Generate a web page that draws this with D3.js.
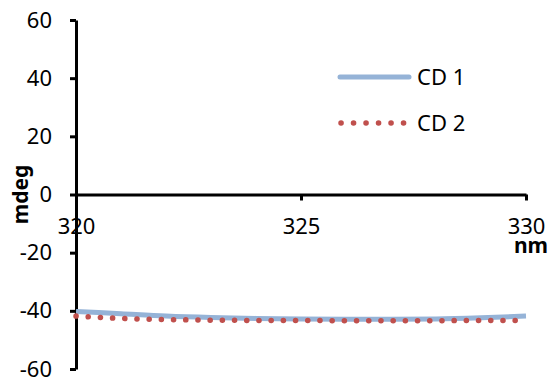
<!DOCTYPE html>
<html>
<head>
<meta charset="utf-8">
<script src="https://cdn.jsdelivr.net/npm/d3@7"></script>
<style>
  body { margin: 0; background: #fff; }
  svg { font-family: "Noto Sans", sans-serif; }
</style>
</head>
<body>
<svg></svg>
<script>
window.onload = () => {

  const width = 551;
  const height = 385;

  const wavelengths = [320, 321, 322, 323, 324, 325, 326, 327, 328, 329, 330];
  const cd1 = [-40.2, -41.0, -41.8, -42.3, -42.6, -42.8, -42.9, -42.9, -42.8, -42.4, -41.8];
  const cd2 = [-41.8, -42.6, -43.0, -43.2, -43.3, -43.3, -43.4, -43.4, -43.4, -43.3, -43.3];
  const seriesNames = ['CD 1', 'CD 2'];
  const xTicks = [320, 325, 330];
  const yTicks = [-60, -40, -20, 0, 20, 40, 60];

  const svg = d3.select('svg').attr('width', width).attr('height', height);

  const xScale = d3.scaleLinear().domain([320, 330]).range([76, 526]);
  const yScale = d3.scaleLinear().domain([-60, 60]).range([369, 20]);

  // y axis
  const yAxis = svg.append('g')
      .attr('transform', 'translate(' + xScale(320) + ',0)')
      .call(d3.axisLeft(yScale).tickValues(yTicks).tickSize(6).tickSizeOuter(0)
        .tickFormat(d => String(d)));
  yAxis.select('.domain').attr('stroke', '#000').attr('stroke-width', 3);
  yAxis.selectAll('.tick line').attr('stroke', '#000').attr('stroke-width', 3);
  yAxis.selectAll('.tick text')
      .attr('x', -24)
      .attr('font-size', 22)
      .attr('font-family', '"Noto Sans", sans-serif')
      .attr('fill', '#000');

  // x axis at y = 0
  const xAxis = svg.append('g')
      .attr('transform', 'translate(0,' + yScale(0) + ')')
      .call(d3.axisBottom(xScale).tickValues(xTicks).tickSize(6).tickSizeOuter(0)
        .tickFormat(d => String(d)));
  xAxis.select('.domain').attr('stroke', '#000').attr('stroke-width', 3);
  xAxis.selectAll('.tick line').attr('stroke', '#000').attr('stroke-width', 3);
  xAxis.selectAll('.tick text')
      .attr('y', 24)
      .attr('font-size', 22)
      .attr('font-family', '"Noto Sans", sans-serif')
      .attr('fill', '#000');

  // axis titles
  svg.append('text')
      .attr('transform', 'translate(28,' + yScale(0) + ') rotate(-90)')
      .attr('text-anchor', 'middle')
      .attr('font-size', 21)
      .attr('font-weight', 'bold')
      .text('mdeg');

  svg.append('text')
      .attr('x', 548)
      .attr('y', 253)
      .attr('text-anchor', 'end')
      .attr('font-size', 21)
      .attr('font-weight', 'bold')
      .text('nm');

  const line = d3.line()
      .x((d, i) => xScale(wavelengths[i]))
      .y(d => yScale(d))
      .curve(d3.curveMonotoneX);

  svg.append('path')
      .datum(cd1)
      .attr('fill', 'none')
      .attr('stroke', '#95B3D7')
      .attr('stroke-width', 5)
      .attr('d', line);

  svg.append('path')
      .datum(cd2)
      .attr('fill', 'none')
      .attr('stroke', '#C0504D')
      .attr('stroke-width', 5.5)
      .attr('stroke-linecap', 'round')
      .attr('stroke-dasharray', '0.1,12.1')
      .attr('d', line);

  // legend
  const legend = svg.append('g');
  legend.append('line')
      .attr('x1', 340).attr('x2', 409).attr('y1', 77).attr('y2', 77)
      .attr('stroke', '#95B3D7').attr('stroke-width', 5).attr('stroke-linecap', 'round');
  legend.append('line')
      .attr('x1', 341).attr('x2', 404).attr('y1', 123).attr('y2', 123)
      .attr('stroke', '#C0504D').attr('stroke-width', 5.5).attr('stroke-linecap', 'round')
      .attr('stroke-dasharray', '0.1,12.4');
  legend.selectAll('text.lab')
      .data(seriesNames)
      .enter()
      .append('text')
      .attr('class', 'lab')
      .attr('x', 417)
      .attr('y', (d, i) => 77 + i * 46)
      .attr('dy', '0.35em')
      .attr('font-size', 22)
      .text(d => d);

};
</script>
</body>
</html>
